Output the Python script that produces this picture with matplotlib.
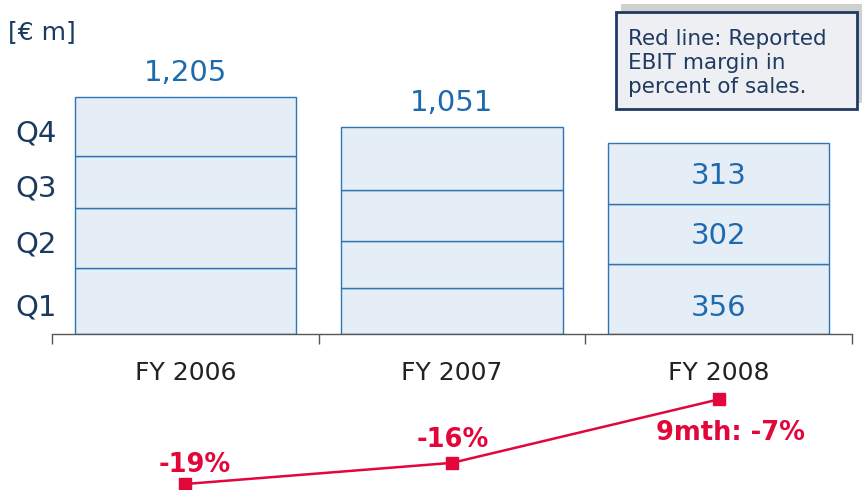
import matplotlib
matplotlib.use("Agg")
import matplotlib.pyplot as plt
from matplotlib.patches import Rectangle
import numpy as np

years = ["FY 2006", "FY 2007", "FY 2008"]
quarters = ["Q1", "Q2", "Q3", "Q4"]
q1 = [336, 234, 356]
q2 = [305, 239, 302]
q3 = [264, 258, 313]
q4 = [300, 320, 0]
totals = ["1,205", "1,051", ""]
inner_labels_2008 = ["356", "302", "313"]
margin = [-19, -16, -7]
margin_labels = ["-19%", "-16%", "9mth: -7%"]

W, H = 865, 490
fig = plt.figure(figsize=(W / 100, H / 100), dpi=100)
fig.patch.set_facecolor("white")

def px_axes(x0, y0, x1, y1):
    return fig.add_axes([x0 / W, 1 - y1 / H, (x1 - x0) / W, (y1 - y0) / H])

face = "#E5EDF6"
edge = "#2E75B6"
valcol = "#1F6AAE"
navy = "#1A3A5F"
red = "#E2063A"
narrow = ["Liberation Sans Narrow", "DejaVu Sans"]

ax = px_axes(52, 60, 852, 334)
ax.set_xlim(-0.5, 2.5)
ax.set_ylim(0, 274 / 0.197)
x = np.arange(len(years))
bottom = np.zeros(len(years))
for vals in [q1, q2, q3, q4]:
    v = np.array(vals, dtype=float)
    mask = v > 0
    ax.bar(x[mask], v[mask], bottom=bottom[mask], width=0.83, color=face,
           edgecolor=edge, linewidth=1.0)
    bottom = bottom + v

for i, t in enumerate(totals):
    if t:
        ax.text(x[i], bottom[i] + 120, t, ha="center", va="center",
                fontsize=21, color=valcol)

segs = [q1[2], q2[2], q3[2]]
cum = np.cumsum([0] + segs)
for j, lab in enumerate(inner_labels_2008):
    ax.text(x[2], (cum[j] + cum[j + 1]) / 2 - (45 if j == 0 else 12), lab,
            ha="center", va="center", fontsize=21, color=valcol)

segs06 = [q1[0], q2[0], q3[0], q4[0]]
cum06 = np.cumsum([0] + segs06)
for j, q in enumerate(quarters):
    ax.text(-0.56, (cum06[j] + cum06[j + 1]) / 2 - 35, q, ha="center",
            va="center", fontsize=21, color=navy, family=narrow)

for s in ["top", "right", "left"]:
    ax.spines[s].set_visible(False)
ax.spines["bottom"].set_color("#555555")
ax.spines["bottom"].set_linewidth(1.0)
ax.set_yticks([])
ax.set_xticks([-0.5, 0.5, 1.5, 2.5])
ax.set_xticklabels([])
ax.tick_params(axis="x", direction="out", length=7, color="#555555", width=1)
for i, y in enumerate(years):
    ax.text(x[i], -200, y, ha="center", va="center", fontsize=18,
            color="#222222", family=narrow)
ax.patch.set_alpha(0)

ax2 = px_axes(52, 380, 852, 490)
ax2.set_xlim(-0.5, 2.5)
ax2.set_ylim(-19 - 6 / 7.05, -19 + 104 / 7.05)
ax2.plot(x, margin, color=red, lw=1.8, marker="s", markersize=8,
         markerfacecolor=red, markeredgecolor=red, clip_on=False)
offs = [(9, 2.7), (1, 3.3), (12, -4.7)]
for i, lab in enumerate(margin_labels):
    ax2.text(x[i] + offs[i][0] / 266.67, margin[i] + offs[i][1], lab,
             ha="center", va="center", fontsize=18.5, fontweight="bold", color=red)
ax2.axis("off")
ax2.patch.set_alpha(0)

fig.text(8 / W, 1 - 32 / H, "[€ m]", fontsize=18, color=navy, va="center", ha="left")

fig.patches.append(Rectangle((621 / W, 1 - 103 / H), (862 - 621) / W, (103 - 4) / H,
                             transform=fig.transFigure, facecolor="#D0D0D0",
                             edgecolor="none", zorder=1))
fig.patches.append(Rectangle((616 / W, 1 - 109 / H), (857 - 616) / W, (109 - 12) / H,
                             transform=fig.transFigure, facecolor="#EEEFF2",
                             edgecolor="#1F3A63", linewidth=2, zorder=2))
fig.text(628 / W, 1 - 63 / H, "Red line: Reported\nEBIT margin in\npercent of sales.",
         fontsize=15.5, color="#1F3A63", va="center", ha="left", linespacing=1.25,
         zorder=3)

fig.savefig("out.png", dpi=100, facecolor="white")
